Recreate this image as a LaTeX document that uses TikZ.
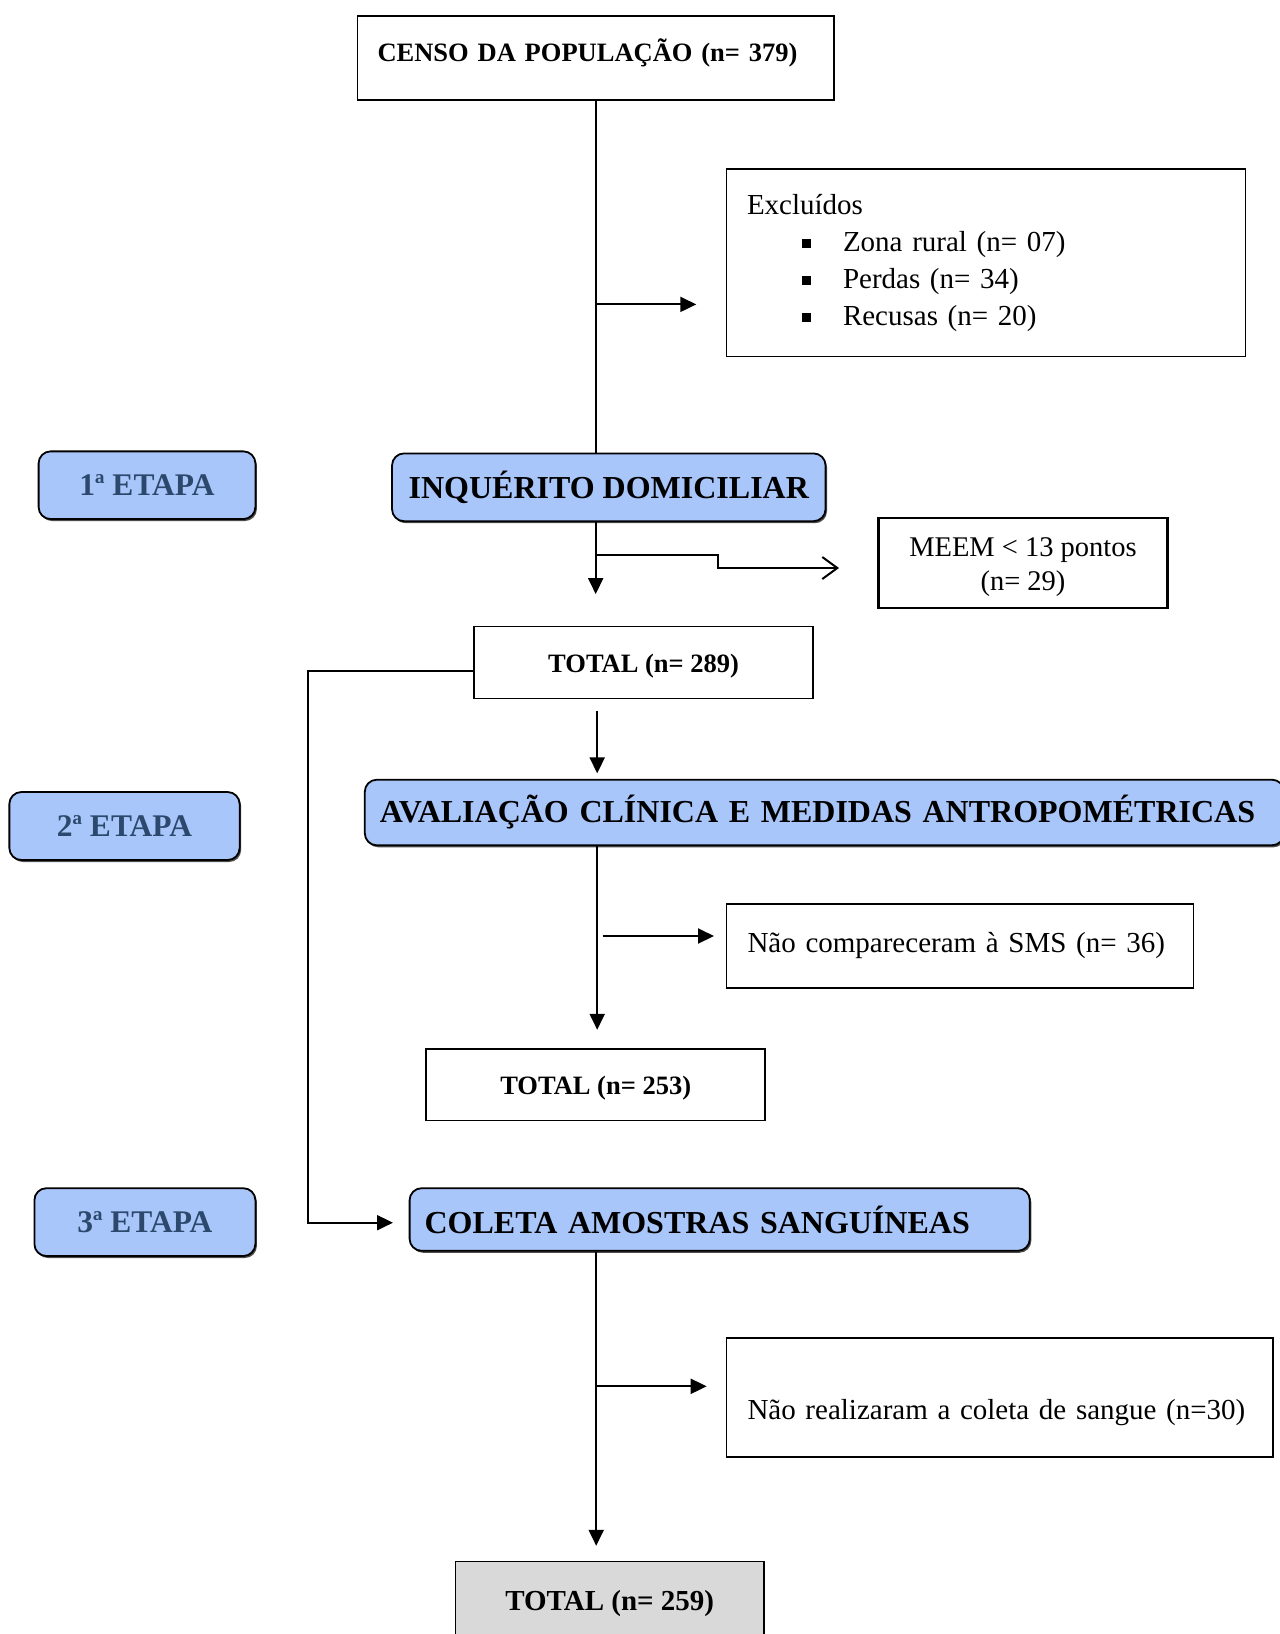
\documentclass[tikz,border=0pt]{standalone}
\usepackage{fontspec}
\setmainfont{Liberation Serif}
\usepackage{xcolor}
\usepackage{tikz}
\usetikzlibrary{arrows.meta,shadows}
\definecolor{etapablue}{RGB}{169,198,250}
\definecolor{etapatext}{RGB}{44,72,108}
\definecolor{totalgray}{RGB}{217,217,217}

\begin{document}
\begin{tikzpicture}[x=1pt, y=-1pt,
    caixa/.style={draw, line width=1.8pt, inner xsep=20pt, inner ysep=0pt},
    fase/.style={draw, line width=1.8pt, rounded corners=12pt, fill=etapablue, inner xsep=15pt, inner ysep=0pt,
        font=\fontsize{32}{36}\selectfont\bfseries,
        drop shadow={shadow xshift=1.5pt, shadow yshift=-2pt, opacity=.7, fill=black}},
    etapa/.style={fase, text=etapatext, font=\fontsize{31.5}{36}\selectfont\bfseries},
    arr/.style={line width=2pt, -{Triangle[length=16pt,width=15pt]}},
    linha/.style={line width=2pt}]
                \useasboundingbox (0,0) rectangle (1280,1634);

                \node[caixa, minimum width=476.4pt, minimum height=84.4pt, text width=436.4pt, align=left, text depth=16pt,
                    font=\fontsize{26.5}{30}\selectfont\bfseries] (censo) at (595.7,57.8) {CENSO DA POPULAÇÃO (n= 379)};
                \node[caixa, minimum width=519pt, minimum height=187.6pt, text width=478pt, align=left,
                    font=\fontsize{29}{37}\selectfont] (exclu) at (986,262.7) {Excluídos\\
                    \hspace*{55pt}\makebox[41pt][l]{\rule[3pt]{9pt}{9pt}}Zona rural (n= 07)\\
                    \hspace*{55pt}\makebox[41pt][l]{\rule[3pt]{9pt}{9pt}}Perdas (n= 34)\\
                    \hspace*{55pt}\makebox[41pt][l]{\rule[3pt]{9pt}{9pt}}Recusas (n= 20)};

                \node[etapa, minimum width=216.8pt, minimum height=67.7pt] (et1) at (147,485.2) {1ª ETAPA};
                \node[fase, minimum width=433.5pt, minimum height=67.8pt] (inq) at (608.8,487.3) {INQUÉRITO DOMICILIAR};

                \draw[linha] (censo.south) -- (censo.south |- inq.north);
                \coordinate (e1) at (595.7,304.4);
                \coordinate (e1f) at (696.3,304.4);
                \draw[arr] (e1) -- (e1f);

                \node[caixa, line width=2.5pt, minimum width=288.7pt, minimum height=89.7pt, align=center,
                    text height=61pt, text depth=6.3pt,
                    font=\fontsize{28.5}{33.6}\selectfont] (meem) at (1023,562.9) {MEEM < 13 pontos\\(n= 29)};
                \node[caixa, minimum width=338.7pt, minimum height=72pt, text height=26.5pt, text depth=5.8pt,
                    font=\fontsize{26.5}{30}\selectfont\bfseries] (tot1) at (643.6,662.4) {TOTAL (n= 289)};

                \coordinate (t1) at (595.7,594.1);
                \draw[arr] (t1 |- inq.south) -- (t1);
                \coordinate (m1) at (595.7,554.5);
                \coordinate (m2) at (718.2,568);
                \coordinate (m3) at (839,568);
                \draw[linha, -{Straight Barb[length=15pt,width=22pt]}] (m1) -| (m2) -- (m3);

                \node[etapa, minimum width=230.3pt, minimum height=68pt] (et2) at (124.5,826) {2ª ETAPA};
                \node[fase, minimum width=919.2pt, minimum height=65.6pt, text width=889.2pt, align=left] (aval)
                    at (824.4,812.5) {AVALIAÇÃO CLÍNICA E MEDIDAS ANTROPOMÉTRICAS};

                \coordinate (t2a) at (597.2,711);
                \coordinate (t2b) at (597.2,773.4);
                \draw[arr] (t2a) -- (t2b);

                \node[caixa, minimum width=466.9pt, minimum height=84.4pt, text width=424.9pt, align=left, inner xsep=21pt,
                    font=\fontsize{29}{34}\selectfont] (nocomp) at (960,945.9) {Não compareceram à SMS (n= 36)};
                \node[caixa, minimum width=338.7pt, minimum height=71.9pt, text height=26.5pt, text depth=5.8pt,
                    font=\fontsize{26.5}{30}\selectfont\bfseries] (tot2) at (595.7,1084.6) {TOTAL (n= 253)};

                \coordinate (t3) at (597.2,1029.8);
                \draw[arr] (t3 |- aval.south) -- (t3);
                \coordinate (n1) at (602.5,936);
                \coordinate (n2) at (714,936);
                \draw[arr] (n1) -- (n2);

                \node[etapa, minimum width=221pt, minimum height=67.8pt] (et3) at (144.9,1222.1) {3ª ETAPA};
                \node[fase, minimum width=620.2pt, minimum height=62.6pt, text width=590.2pt, align=left] (coleta)
                    at (719.7,1219.5) {COLETA AMOSTRAS SANGUÍNEAS};

                \coordinate (v1) at (307.5,1222.7);
                \coordinate (v2) at (393,1222.7);
                \draw[arr] ([yshift=-9pt]tot1.west) -| (v1) -- (v2);

                \node[caixa, minimum width=546.2pt, minimum height=118.9pt, text width=504.2pt, align=left, inner xsep=21pt,
                    text height=49pt, text depth=6.4pt,
                    font=\fontsize{29}{34}\selectfont] (norea) at (999.6,1397.8) {Não realizaram a coleta de sangue (n=30)};
                \node[caixa, fill=totalgray, minimum width=308.5pt, minimum height=83.6pt,
                    font=\fontsize{29}{34}\selectfont\bfseries] (tot3) at (609.75,1603.2) {TOTAL (n= 259)};

                \coordinate (t4) at (596.2,1545.8);
                \draw[arr] (t4 |- coleta.south) -- (t4);
                \coordinate (r1) at (596.2,1386.3);
                \coordinate (r2) at (706.7,1386.3);
                \draw[arr] (r1) -- (r2);
            \end{tikzpicture}
\end{document}
